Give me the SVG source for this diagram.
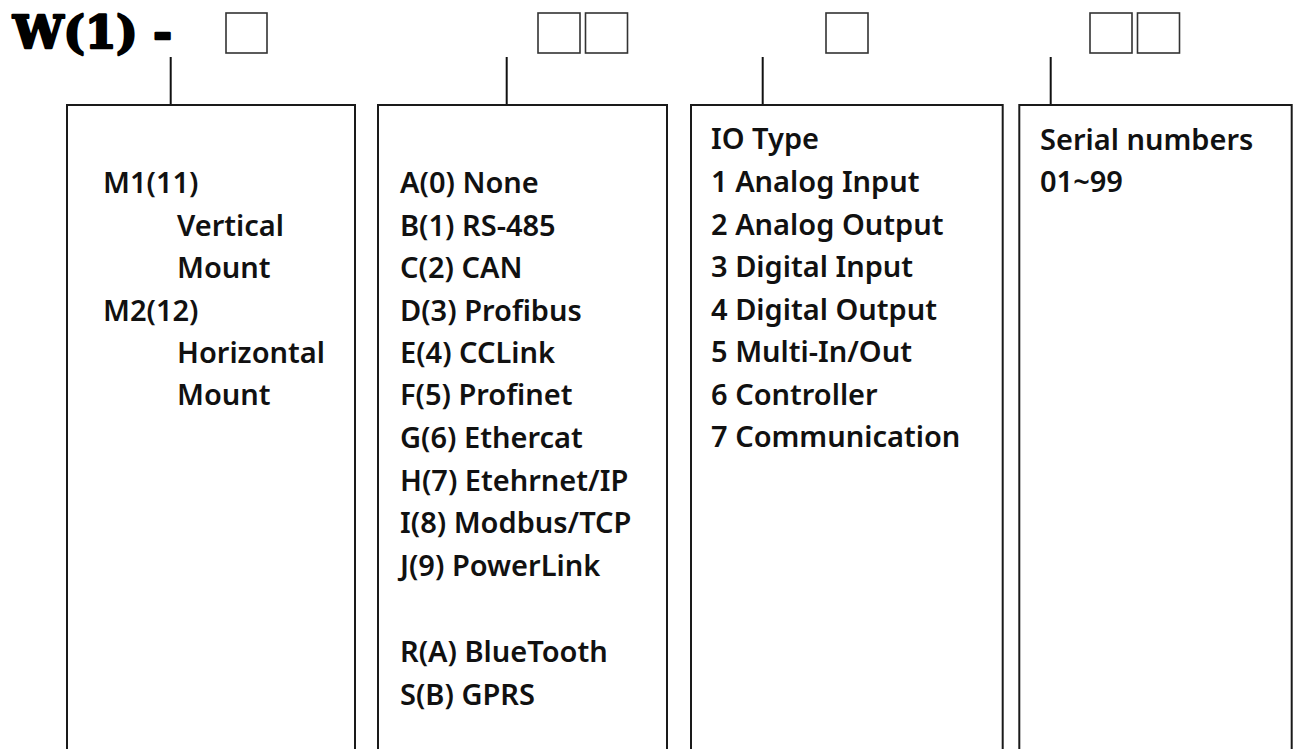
<svg xmlns="http://www.w3.org/2000/svg" width="1296" height="749" viewBox="0 0 1296 749">
<style>
.bg{fill:#fff}
.box{fill:none;stroke:#1a1a1a;stroke-width:2}
.sq{fill:none;stroke:#333;stroke-width:1.6}
.ln{stroke:#111;stroke-width:2;fill:none}
.t{font-family:"Noto Sans","Open Sans","Liberation Sans",sans-serif;font-weight:600;font-size:29px;fill:#111}
.title{font-family:"DejaVu Serif","Liberation Serif",serif;font-weight:900;font-size:45px;fill:#000;stroke:#000;stroke-width:2.5;stroke-linejoin:round}
</style>
<rect class="bg" x="0" y="0" width="1296" height="749"/>
<g id="header">
<text class="title" x="13" y="48" textLength="159" lengthAdjust="spacingAndGlyphs">W(1) -</text>
<rect class="sq" x="226" y="13" width="41" height="40"/>
<rect class="sq" x="538" y="13" width="42" height="40"/>
<rect class="sq" x="585.5" y="13" width="42" height="40"/>
<rect class="sq" x="826" y="13" width="42" height="40"/>
<rect class="sq" x="1090" y="13" width="42" height="40"/>
<rect class="sq" x="1137.5" y="13" width="42" height="40"/>
</g>
<g id="connectors">
<line class="ln" x1="170.7" y1="57" x2="170.7" y2="105"/>
<line class="ln" x1="506.7" y1="57" x2="506.7" y2="105"/>
<line class="ln" x1="762.7" y1="57" x2="762.7" y2="105"/>
<line class="ln" x1="1050.7" y1="57" x2="1050.7" y2="105"/>
</g>
<g id="mount">
<path class="box" d="M67,760 V105 H355 V760"/>
<text class="t" x="103" y="193">M1(11)</text>
<text class="t" x="177" y="236">Vertical</text>
<text class="t" x="177" y="278">Mount</text>
<text class="t" x="103" y="321">M2(12)</text>
<text class="t" x="177" y="363">Horizontal</text>
<text class="t" x="177" y="405">Mount</text>
</g>
<g id="protocol">
<path class="box" d="M378,760 V105 H667 V760"/>
<text class="t" x="400" y="193">A(0) None</text>
<text class="t" x="400" y="236">B(1) RS-485</text>
<text class="t" x="400" y="278">C(2) CAN</text>
<text class="t" x="400" y="321">D(3) Profibus</text>
<text class="t" x="400" y="363">E(4) CCLink</text>
<text class="t" x="400" y="405">F(5) Profinet</text>
<text class="t" x="400" y="448">G(6) Ethercat</text>
<text class="t" x="400" y="491">H(7) Etehrnet/IP</text>
<text class="t" x="400" y="533">I(8) Modbus/TCP</text>
<text class="t" x="400" y="576">J(9) PowerLink</text>
<text class="t" x="400" y="662">R(A) BlueTooth</text>
<text class="t" x="400" y="705">S(B) GPRS</text>
</g>
<g id="iotype">
<path class="box" d="M691,760 V105 H1002.7 V760"/>
<text class="t" x="711" y="149">IO Type</text>
<text class="t" x="711" y="192">1 Analog Input</text>
<text class="t" x="711" y="235">2 Analog Output</text>
<text class="t" x="711" y="277">3 Digital Input</text>
<text class="t" x="711" y="320">4 Digital Output</text>
<text class="t" x="711" y="362">5 Multi-In/Out</text>
<text class="t" x="711" y="405">6 Controller</text>
<text class="t" x="711" y="447">7 Communication</text>
</g>
<g id="serial">
<path class="box" d="M1019.3,760 V105 H1291.7 V760"/>
<text class="t" x="1040" y="150">Serial numbers</text>
<text class="t" x="1040" y="192">01~99</text>
</g>
</svg>
